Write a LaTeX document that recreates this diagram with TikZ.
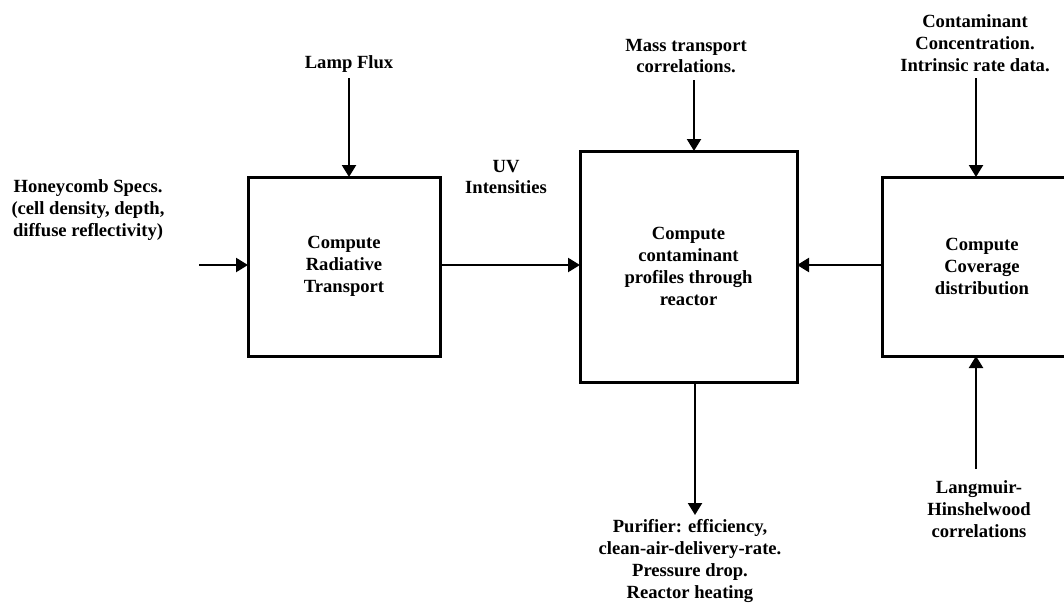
\documentclass[tikz,border=0pt]{standalone}
\usepackage{fontspec}
\setmainfont{Liberation Serif}
\usetikzlibrary{arrows.meta}
\begin{document}
\begin{tikzpicture}[x=1pt,y=-1pt,
  box/.style={draw,line width=3pt,minimum width=#1,inner sep=0pt,outer sep=0pt,align=center,font=\lbl},
  lab/.style={align=center,font=\lbl,inner sep=0pt},
  arr/.style={line width=2.2pt,-{Triangle[length=12pt,width=14pt]}}]
\newcommand{\lbl}{\bfseries\fontsize{18.6}{21.8}\selectfont}
\useasboundingbox (0,0) rectangle (1064,603);
\clip (0,0) rectangle (1064,603);
% boxes
\node[box=192pt,minimum height=179pt] (b1) at (344,266.5) {Compute\\Radiative\\Transport};
\node[box=217pt,minimum height=231pt] (b2) at (688.5,266.5) {Compute\\contaminant\\profiles through\\reactor};
\node[box=198pt,minimum height=179pt] (b3) at (981,266.5) {\hspace*{2pt}Compute\\\hspace*{2pt}Coverage\\\hspace*{2pt}distribution};
% labels
\node[lab] (hc) at (88,210) {Honeycomb Specs.\\(cell density, depth,\\diffuse reflectivity)};
\node[lab] (lf) at (349,64) {Lamp Flux};
\node[lab] (uv) at (506,177) {UV\\Intensities};
\node[lab] (mt) at (686,56) {Mass transport\\correlations.};
\node[lab] (cc) at (975,43) {Contaminant\\Concentration.\\Intrinsic rate data.};
\node[lab] (pu) at (690,561) {Purifier: efficiency,\\clean-air-delivery-rate.\\Pressure drop.\\Reactor heating};
\node[lab] (lh) at (979,509) {Langmuir-\\Hinshelwood\\correlations};
% connector ends
\coordinate (s0) at (199,265);
\coordinate (s1) at (349,78);
\coordinate (s2) at (694,80);
\coordinate (s3) at (976,78);
\coordinate (s4) at (976,469);
\coordinate (s5) at (695,515);
% connectors
\draw[arr] (s0) -- (s0 -| b1.west);
\draw[arr] (s1) -- (s1 |- b1.north);
\draw[arr] (b1.east |- s0) -- (b2.west |- s0);
\draw[arr] (s2) -- (s2 |- b2.north);
\draw[arr] (b3.west |- s0) -- (b2.east |- s0);
\draw[arr] (s3) -- (s3 |- b3.north);
\draw[arr] (s4) -- (s4 |- b3.south);
\draw[arr] (s5 |- b2.south) -- (s5);
\end{tikzpicture}
\end{document}
